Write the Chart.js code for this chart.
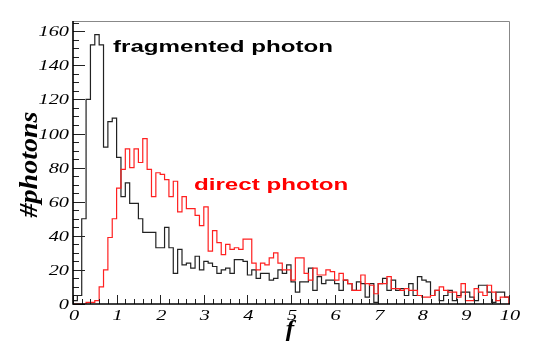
<!DOCTYPE html>
<html>
<head>
<meta charset="utf-8">
<script src="https://cdn.jsdelivr.net/npm/chart.js@4.4.1/dist/chart.umd.min.js"></script>
<style>
  html, body { margin: 0; padding: 0; background: #fff; }
  canvas { display: block; }
</style>
</head>
<body>
<canvas id="chart-photons" width="545" height="354"></canvas>
<script>
// histogram bins of 0.1 in f, from 0 to 10
const binWidth = 0.1;
const fragmented = [
    2, 5, 50, 120, 152, 158, 152, 92, 107, 109,
    86, 63, 71, 59, 59, 50, 42, 42, 42, 33,
    33, 45, 33, 18, 32, 23, 24, 21, 28, 20,
    25, 24, 22, 18, 20, 21, 18, 26, 26, 25,
    17, 20, 15, 18, 18, 14, 15, 20, 18, 23,
    13, 7, 13, 13, 21, 8, 16, 12, 14, 14,
    12, 8, 14, 12, 8, 13, 12, 4, 12, 1,
    12, 15, 8, 14, 8, 9, 5, 12, 5, 16,
    14, 13, 5, 8, 2, 5, 8, 2, 5, 7,
    7, 4, 2, 11, 11, 7, 1, 7, 7, 4,
];
const direct = [
    0, 0, 0, 1, 1, 2, 10, 20, 39, 50,
    68, 79, 91, 80, 91, 83, 97, 79, 63, 77,
    76, 73, 63, 72, 54, 63, 56, 56, 52, 46,
    57, 31, 43, 36, 29, 35, 32, 33, 32, 38,
    38, 24, 20, 24, 23, 27, 30, 24, 20, 20,
    14, 27, 27, 18, 14, 21, 17, 17, 20, 19,
    14, 18, 14, 12, 8, 8, 17, 12, 11, 6,
    12, 12, 16, 9, 9, 8, 9, 8, 8, 5,
    4, 4, 5, 8, 10, 8, 7, 7, 4, 12,
    2, 2, 9, 7, 5, 11, 7, 2, 4, 4,
];
const xTickLabels = ['0', '1', '2', '3', '4', '5', '6', '7', '8', '9', '10'];
const yTickLabels = ['0', '20', '40', '60', '80', '100', '120', '140', '160'];

function toSteps(values) {
    const pts = values.map((v, i) => ({ x: i * binWidth, y: v }));
    pts.push({ x: values.length * binWidth, y: 0 });
    return pts;
}

// text in the original is drawn wide, so labels get a horizontal stretch
function wideText(ctx, txt, px, py, sx) {
    ctx.save();
    ctx.translate(px, py);
    ctx.scale(sx, 1);
    ctx.fillText(txt, 0, 0);
    ctx.restore();
}

const rootAxes = {
    id: 'rootAxes',
    afterDatasetsDraw(chart) {
        const { ctx, chartArea: a, scales: { x, y } } = chart;
        ctx.save();

        // frame
        ctx.strokeStyle = '#888';
        ctx.lineWidth = 1;
        ctx.beginPath();
        ctx.moveTo(a.left, a.top + 0.5);
        ctx.lineTo(a.right + 0.5, a.top + 0.5);
        ctx.lineTo(a.right + 0.5, a.bottom);
        ctx.stroke();

        // ticks, drawn inward like ROOT
        ctx.strokeStyle = '#222';
        ctx.lineWidth = 1;
        ctx.beginPath();
        for (let v = 0; v <= y.max; v += 5) {
            const py = Math.round(y.getPixelForValue(v)) + 0.5;
            const len = v % 20 === 0 ? 12 : 6;
            ctx.moveTo(a.left, py);
            ctx.lineTo(a.left + len, py);
        }
        for (let k = 0; k <= 50; k++) {
            const px = Math.round(x.getPixelForValue(k * 0.2)) + 0.5;
            const len = k % 5 === 0 ? 9 : 5;
            ctx.moveTo(px, a.bottom);
            ctx.lineTo(px, a.bottom - len);
        }
        ctx.stroke();

        ctx.strokeStyle = '#000';
        ctx.lineWidth = 1.6;
        ctx.beginPath();
        ctx.moveTo(a.left, a.top);
        ctx.lineTo(a.left, a.bottom);
        ctx.lineTo(a.right + 1, a.bottom);
        ctx.stroke();

        // tick labels
        ctx.fillStyle = '#000';
        ctx.font = 'italic 14px "Liberation Serif", serif';
        ctx.textBaseline = 'alphabetic';
        ctx.textAlign = 'right';
        yTickLabels.forEach(t => {
            wideText(ctx, t, a.left - 4, y.getPixelForValue(Number(t)) + 5, 1.45);
        });
        ctx.textAlign = 'center';
        xTickLabels.forEach(t => {
            wideText(ctx, t, x.getPixelForValue(Number(t)) + 1, a.bottom + 16, 1.45);
        });

        // axis titles
        ctx.font = 'italic bold 24px "Liberation Serif", serif';
        ctx.textAlign = 'center';
        wideText(ctx, 'f', x.getPixelForValue(5) - 1, a.bottom + 32, 1.05);

        ctx.save();
        ctx.translate(37, (a.top + a.bottom) / 2 + 2);
        ctx.rotate(-Math.PI / 2);
        ctx.scale(1, 0.88);
        ctx.font = 'italic bold 28px "Liberation Serif", serif';
        ctx.fillText('#photons', 0, 0);
        ctx.restore();

        // series labels
        ctx.font = 'bold 17px "Liberation Sans", Arial, sans-serif';
        ctx.textAlign = 'left';
        ctx.fillStyle = '#000';
        wideText(ctx, 'fragmented photon', 113, 52, 1.42);
        ctx.fillStyle = '#ff0000';
        wideText(ctx, 'direct photon', 194, 190, 1.42);

        ctx.restore();
    },
};

new Chart(document.getElementById('chart-photons'), {
    type: 'line',
    data: {
        datasets: [
            {
                label: 'direct photon',
                data: toSteps(direct),
                borderColor: '#ff2020',
                borderWidth: 1.2,
                stepped: true,
                pointRadius: 0,
                fill: false,
            },
            {
                label: 'fragmented photon',
                data: toSteps(fragmented),
                borderColor: '#222',
                borderWidth: 1.2,
                stepped: true,
                pointRadius: 0,
                fill: false,
            },
        ],
    },
    options: {
        responsive: false,
        animation: false,
        layout: { padding: { left: 73, right: 36, top: 21, bottom: 50 } },
        plugins: {
            legend: { display: false },
            tooltip: { enabled: false },
        },
        scales: {
            x: { type: 'linear', min: 0, max: 10, display: false },
            y: { min: 0, max: 166, display: false },
        },
    },
    plugins: [rootAxes],
});
</script>
</body>
</html>
